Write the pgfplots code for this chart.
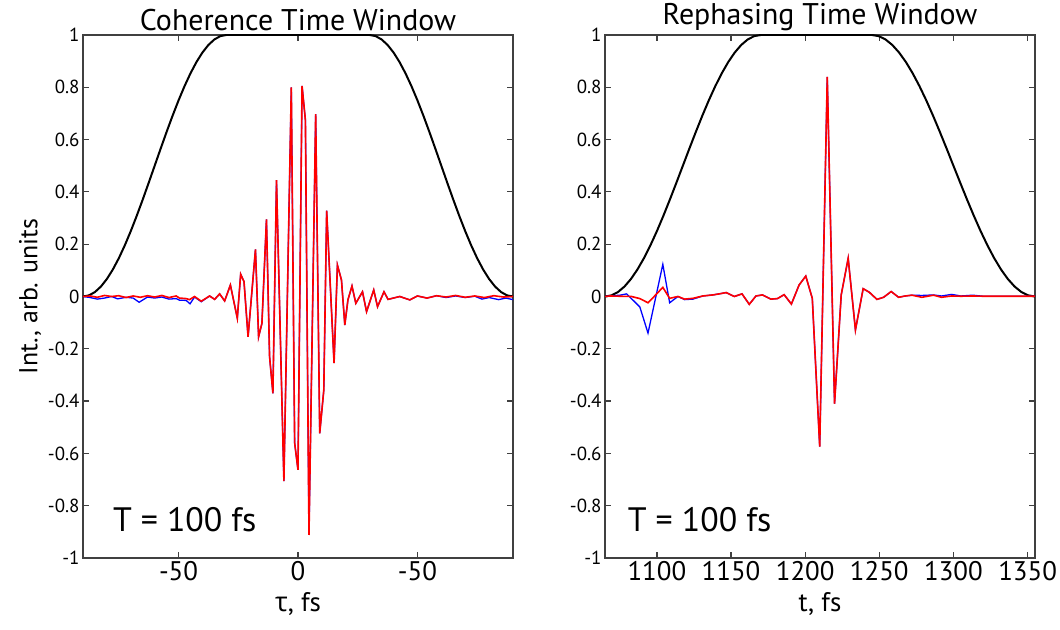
\documentclass[border=0pt]{standalone}
\usepackage{pgfplots}
\pgfplotsset{compat=1.18}
\usepackage{fontspec}
\setmainfont{PT Sans}
\newfontfamily\grk{Open Sans}
\pgfplotsset{
  common/.style={
    scale only axis, width=430bp, height=523bp,
    ymin=-1, ymax=1,
    ytick={-1,-0.8,-0.6,-0.4,-0.2,0,0.2,0.4,0.6,0.8,1},
    yticklabels={-1,-0.8,-0.6,-0.4,-0.2,0,0.2,0.4,0.6,0.8,1},
    tick align=inside,
    major tick length=6bp,
    tick style={line width=1.2bp, color=black!75},
    axis line style={line width=2bp, color=black!75},
    x tick label style={font=\fontsize{27}{28}\selectfont, yshift=0bp},
    y tick label style={font=\fontsize{19}{21}\selectfont},
    title style={font=\fontsize{30}{32}\selectfont, yshift=-5bp},
    xlabel style={font=\fontsize{27}{28}\selectfont, yshift=-5bp},
    ylabel style={font=\fontsize{26}{28}\selectfont},
    /pgf/number format/assume math mode=true,
    clip=true,
  }
}
\begin{document}
\begin{tikzpicture}
\useasboundingbox (-83bp,-72bp) rectangle (977bp,558bp);
% ---------------- Left axis ----------------
\begin{axis}[common, at={(0bp,0bp)}, anchor=south west,
  xmin=-90, xmax=90, xtick={-50,0,50}, xticklabels={-50,0,-50},
  title={Coherence Time Window},
  xlabel={{\grk τ}, fs},
  ylabel={Int., arb. units}]
\addplot[black, line width=2bp] coordinates {
(-90,0) (-87.5,0.00428) (-85,0.01704) (-82.5,0.03806) (-80,0.06699) (-77.5,0.10332)
(-75,0.14645) (-72.5,0.19562) (-70,0.25) (-67.5,0.30866) (-65,0.37059) (-62.5,0.43474)
(-60,0.5) (-57.5,0.56526) (-55,0.62941) (-52.5,0.69134) (-50,0.75) (-47.5,0.80438)
(-45,0.85355) (-42.5,0.89668) (-40,0.93301) (-37.5,0.96194) (-35,0.98296) (-32.5,0.99572)
(-30,1) (30,1)
(32.5,0.99572) (35,0.98296) (37.5,0.96194) (40,0.93301) (42.5,0.89668) (45,0.85355)
(47.5,0.80438) (50,0.75) (52.5,0.69134) (55,0.62941) (57.5,0.56526) (60,0.5)
(62.5,0.43474) (65,0.37059) (67.5,0.30866) (70,0.25) (72.5,0.19562) (75,0.14645)
(77.5,0.10332) (80,0.06699) (82.5,0.03806) (85,0.01704) (87.5,0.00428) (90,0)
};
\addplot[blue, line width=1.3bp] coordinates {
(-90,0) (-87,-0.004) (-84,-0.01) (-81,-0.006) (-78,0) (-75.5,-0.009) (-72,-0.003)
(-69,-0.006) (-66.5,-0.022) (-63,-0.002) (-60,-0.006) (-57,-0.002) (-54,-0.01)
(-51,-0.008) (-49.6,-0.014) (-46.8,-0.015) (-45.2,-0.028) (-43.3,-0.002) (-40.5,-0.02)
(-37,0.002) (-34.9,-0.011) (-32.8,0.01) (-30.7,-0.017) (-28.3,0.044) (-25.4,-0.083)
(-24,0.085) (-22.6,0.057) (-20.9,-0.154) (-17.8,0.18) (-16.5,-0.154) (-15.1,-0.103)
(-13.2,0.295) (-11.9,-0.23) (-10.5,-0.37) (-9,0.445) (-5.9,-0.706) (-2.8,0.8)
(-1.4,-0.56) (0,-0.663) (1.7,0.805) (3.1,0.675) (4.6,-0.912) (7.4,0.697)
(9.1,-0.523) (10.8,-0.358) (12,0.328) (15.1,-0.255) (16.5,0.12) (18.2,0.063)
(19.6,-0.109) (20.9,-0.013) (22.6,0.04) (24.2,-0.026) (27,0.018) (28.7,-0.058)
(31.7,0.025) (33.3,-0.039) (36,0.018) (37.7,-0.011) (42.6,0) (46.8,-0.013)
(50,0.002) (54,-0.006) (58,0.003) (62,-0.004) (66,0.002) (70,-0.004) (74,0.001)
(77,-0.01) (80,-0.004) (84,-0.012) (87,-0.006) (90,-0.012)
};
\addplot[red, line width=1.6bp] coordinates {
(-90,0) (-87,0.002) (-84,-0.003) (-81,0.004) (-78,0) (-75,0.003) (-72,-0.004)
(-69,0.002) (-66,-0.003) (-63,0.003) (-60,-0.002) (-57,0.004) (-54,-0.004)
(-51,0.002) (-49.6,-0.006) (-46.8,-0.008) (-45.4,-0.012) (-43.3,0) (-40.5,-0.018)
(-37,0.002) (-34.9,-0.011) (-32.8,0.01) (-30.7,-0.017) (-28.3,0.044) (-25.4,-0.083)
(-24,0.085) (-22.6,0.057) (-20.9,-0.154) (-17.8,0.18) (-16.5,-0.154) (-15.1,-0.103)
(-13.2,0.295) (-11.9,-0.23) (-10.5,-0.37) (-9,0.445) (-5.9,-0.706) (-2.8,0.8)
(-1.4,-0.56) (0,-0.663) (1.7,0.805) (3.1,0.675) (4.6,-0.912) (7.4,0.697)
(9.1,-0.523) (10.8,-0.358) (12,0.328) (15.1,-0.255) (16.5,0.12) (18.2,0.063)
(19.6,-0.109) (20.9,-0.013) (22.6,0.04) (24.2,-0.026) (27,0.018) (28.7,-0.058)
(31.7,0.025) (33.3,-0.039) (36,0.018) (37.7,-0.011) (42.6,0) (46.8,-0.013)
(50,0.002) (54,-0.006) (58,0.003) (62,-0.002) (66,0.004) (70,-0.003) (74,0.002)
(78,-0.004) (82,0.003) (86,-0.002) (90,0)
};
\node[font=\fontsize{34}{36}\selectfont] at (axis cs:-47.4,-0.855) {T = 100 fs};
\end{axis}
% ---------------- Right axis ----------------
\begin{axis}[common, at={(522bp,0bp)}, anchor=south west,
  xmin=1065, xmax=1355, xtick={1100,1150,1200,1250,1300,1350},
  xticklabels={1100,1150,1200,1250,1300,1350},
  title={Rephasing Time Window},
  xlabel={t, fs}]
\addplot[black, line width=2bp] coordinates {
(1065,0) (1069.375,0.00428) (1073.75,0.01704) (1078.125,0.03806) (1082.5,0.06699)
(1086.875,0.10332) (1091.25,0.14645) (1095.625,0.19562) (1100,0.25) (1104.375,0.30866)
(1108.75,0.37059) (1113.125,0.43474) (1117.5,0.5) (1121.875,0.56526) (1126.25,0.62941)
(1130.625,0.69134) (1135,0.75) (1139.375,0.80438) (1143.75,0.85355) (1148.125,0.89668)
(1152.5,0.93301) (1156.875,0.96194) (1161.25,0.98296) (1165.625,0.99572) (1170,1)
(1245,1) (1249.58,0.99572) (1254.17,0.98296) (1258.75,0.96194) (1263.33,0.93301)
(1267.92,0.89668) (1272.5,0.85355) (1277.08,0.80438) (1281.67,0.75) (1286.25,0.69134)
(1290.83,0.62941) (1295.42,0.56526) (1300,0.5) (1304.58,0.43474) (1309.17,0.37059)
(1313.75,0.30866) (1318.33,0.25) (1322.92,0.19562) (1327.5,0.14645) (1332.08,0.10332)
(1336.67,0.06699) (1341.25,0.03806) (1345.83,0.01704) (1350.42,0.00428) (1355,0)
};
\addplot[blue, line width=1.3bp] coordinates {
(1065,0) (1068.4,0.002) (1075,0.005) (1079.6,0.01) (1088.5,-0.04) (1094,-0.14)
(1104,0.123) (1108.6,-0.024) (1114.2,0) (1118.7,-0.012) (1124.3,-0.01) (1131,0.002)
(1137.7,0.006) (1142,0.01) (1146.7,0.015) (1152.2,0) (1157.4,0.01) (1162.3,-0.03)
(1166.8,0.002) (1171.2,0.006) (1176.9,-0.01) (1181.3,-0.008) (1185.8,0.007)
(1190.7,-0.029) (1195.9,0.044) (1200.4,0.078) (1204.8,-0.007) (1209.8,-0.574)
(1214.9,0.84) (1219.8,-0.41) (1224.3,0.006) (1229,0.146) (1233.9,-0.128) (1239.1,0.03)
(1243.3,0.016) (1248.4,-0.011) (1252.9,-0.003) (1258,0.019) (1263,-0.003) (1267.5,0.002)
(1272,0.005) (1278.7,0.004) (1286.5,0.006) (1292,0.002) (1298.7,0.008) (1305,0.002)
(1313,0.005) (1320,0.001) (1330,0.001) (1340,0.001) (1355,0.001)
};
\addplot[red, line width=1.6bp] coordinates {
(1065,0) (1068.4,0.002) (1075,0.001) (1082.9,0) (1088.5,-0.008) (1094,-0.024)
(1099,0.005) (1104,0.035) (1108.6,-0.007) (1114.2,0) (1118.7,-0.01) (1124.3,-0.007)
(1131,0.002) (1137.7,0.006) (1142,0.01) (1146.7,0.015) (1152.2,0) (1157.4,0.01)
(1162.3,-0.03) (1166.8,0.002) (1171.2,0.006) (1176.9,-0.01) (1181.3,-0.008)
(1185.8,0.007) (1190.7,-0.029) (1195.9,0.044) (1200.4,0.078) (1204.8,-0.007)
(1209.8,-0.574) (1214.9,0.84) (1219.8,-0.41) (1224.3,0.006) (1229,0.146)
(1233.9,-0.128) (1239.1,0.03) (1243.3,0.016) (1248.4,-0.011) (1252.9,-0.003)
(1258,0.019) (1263,-0.003) (1267.5,0.002) (1272,0.005) (1278.7,-0.003) (1286.5,0.005)
(1292,-0.003) (1298.7,0.002) (1305,0.001) (1313,0.002) (1320,0.001) (1330,0.001)
(1340,0.001) (1355,0.001)
};
\node[font=\fontsize{34}{36}\selectfont] at (axis cs:1128.8,-0.855) {T = 100 fs};
\end{axis}
\end{tikzpicture}
\end{document}
